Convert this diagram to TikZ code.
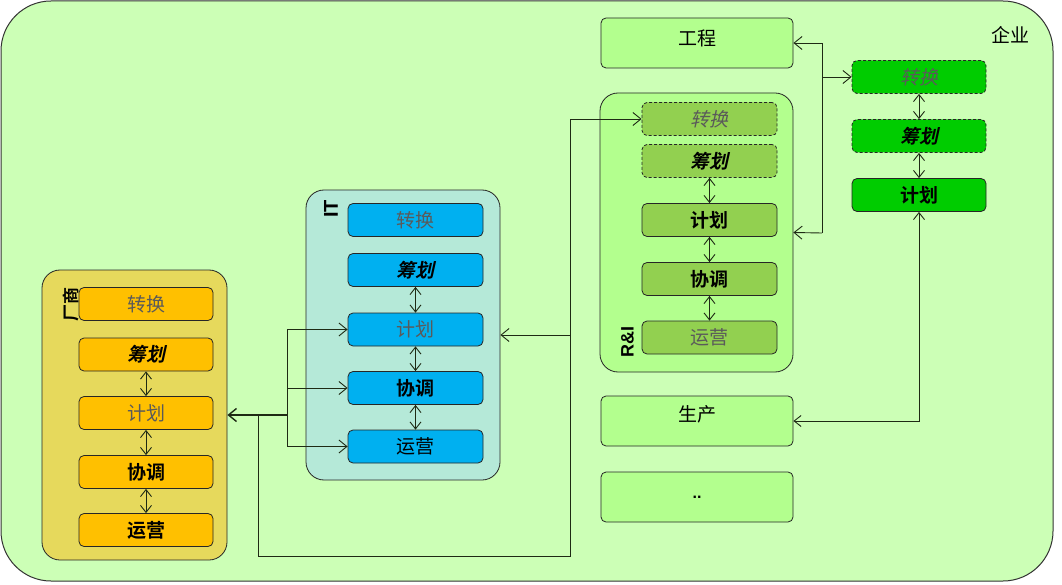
\documentclass[tikz,border=0pt]{standalone}
\usepackage{fontspec}
\setmainfont{Noto Sans CJK SC}[ItalicFont={Noto Sans CJK SC}, ItalicFeatures={FakeSlant=0.22}, BoldFont={Noto Sans CJK SC Bold}, BoldItalicFont={Noto Sans CJK SC Bold}, BoldItalicFeatures={FakeSlant=0.22}]
\newfontfamily\lat{Liberation Sans}
\usetikzlibrary{arrows.meta}
\definecolor{bgc}{HTML}{CCFFB6}
\definecolor{vendc}{HTML}{E6D95C}
\definecolor{vendbox}{HTML}{FFC000}
\definecolor{itc}{HTML}{B5E9D8}
\definecolor{itbox}{HTML}{00B0F0}
\definecolor{ric}{HTML}{B3FF8E}
\definecolor{ribox}{HTML}{92D050}
\definecolor{gbox}{HTML}{00CC00}
\definecolor{linec}{HTML}{1E2A14}
\definecolor{grayt}{HTML}{5A5A5A}
\tikzset{
  cjk/.style={font=\fontsize{19}{22}\selectfont},
  box/.style={draw=black!85, rounded corners=5pt, minimum width=134pt, minimum height=33pt, inner sep=0pt, line width=0.8pt, cjk},
  dashbox/.style={box, dash pattern=on 3pt off 2pt},
  cont/.style={draw=black!85, rounded corners=18pt, line width=0.8pt, inner sep=0pt},
  gt/.style={text=grayt},
  bt/.style={font=\fontsize{19}{22}\selectfont\bfseries},
  it/.style={font=\fontsize{19}{22}\selectfont\itshape},
  bit/.style={font=\fontsize{19}{22}\selectfont\bfseries\itshape},
  conn/.style={draw=linec, line width=0.9pt, -{Straight Barb[length=8pt,width=13pt]}},
  plain/.style={draw=linec, line width=0.9pt},
  darr/.style={draw=linec, line width=0.9pt, {Straight Barb[length=7pt,width=11pt]}-{Straight Barb[length=7pt,width=11pt]}},
  lbl/.style={font=\lat\bfseries\fontsize{19}{22}\selectfont, inner sep=0pt, rotate=90}
}
\begin{document}
\begin{tikzpicture}[x=1pt,y=-1pt]
\useasboundingbox (0,0) rectangle (1062,585);
\fill[white] (0,0) rectangle (1062,585);
\node[draw=black!80, fill=bgc, rounded corners=50pt, line width=1pt, minimum width=1052pt, minimum height=580pt, inner sep=0pt] (ent) at (527,291) {};
\node[cjk, inner sep=0pt] (entl) at (1010,35) {企业};

% containers
\node[cont, fill=vendc, minimum width=185pt, minimum height=290pt] (V) at (134.5,415) {};
\node[cont, fill=itc, minimum width=194pt, minimum height=290pt] (ITc) at (403,335) {};
\node[cont, fill=ric, minimum width=193pt, minimum height=279pt] (RI) at (696.5,232.5) {};

% container labels
\node[font=\fontsize{17}{20}\selectfont\bfseries, inner sep=0pt, rotate=90] (Vl) at (71,304) {厂商};
\node[lbl, font=\lat\bfseries\fontsize{20}{22}\selectfont] (ITl) at (331,209) {IT};
\node[lbl, font=\lat\bfseries\fontsize{18}{22}\selectfont] (RIl) at (627.5,342) {R\&I};

% vendor boxes
\node[box, fill=vendbox, gt] (v1) at (146,304) {转换};
\node[box, fill=vendbox, bit] (v2) at (146,354.5) {筹划};
\node[box, fill=vendbox, gt] (v3) at (146,413) {计划};
\node[box, fill=vendbox, bt] (v4) at (146,472) {协调};
\node[box, fill=vendbox, bt] (v5) at (146,530) {运营};

% IT boxes
\node[box, fill=itbox, gt, minimum width=135pt] (i1) at (415.5,220) {转换};
\node[box, fill=itbox, bit, minimum width=135pt] (i2) at (415.5,270) {筹划};
\node[box, fill=itbox, gt, minimum width=135pt] (i3) at (415.5,329.5) {计划};
\node[box, fill=itbox, bt, minimum width=135pt] (i4) at (415.5,388) {协调};
\node[box, fill=itbox, minimum width=135pt] (i5) at (415.5,446.5) {运营};

% R&I boxes
\node[dashbox, fill=ribox, it, gt, minimum width=135pt] (r1) at (709.5,119) {转换};
\node[dashbox, fill=ribox, bit, minimum width=135pt] (r2) at (709.5,161) {筹划};
\node[box, fill=ribox, bt, minimum width=135pt] (r3) at (709.5,220) {计划};
\node[box, fill=ribox, bt, minimum width=135pt] (r4) at (709.5,279) {协调};
\node[box, fill=ribox, gt, minimum width=135pt] (r5) at (709.5,337.5) {运营};

% enterprise green boxes
\node[dashbox, fill=gbox, it, gt] (g1) at (919,77) {转换};
\node[dashbox, fill=gbox, bit] (g2) at (919,136) {筹划};
\node[box, fill=gbox, bt] (g3) at (919,195) {计划};

% other departments
\node[box, fill=ric, minimum width=192pt, minimum height=50pt] (eng) at (697,43) {\raisebox{10pt}{工程}};
\node[box, fill=ric, minimum width=192pt, minimum height=50pt] (prod) at (697,421) {\raisebox{15pt}{生产}};
\node[box, fill=ric, minimum width=192pt, minimum height=50pt, font=\lat\bfseries\fontsize{16}{18}\selectfont] (etc) at (697,497) {..};

% stack arrows
\draw[darr] (v2.south) -- (v3.north);
\draw[darr] (v3.south) -- (v4.north);
\draw[darr] (v4.south) -- (v5.north);
\draw[darr] (i2.south) -- (i3.north);
\draw[darr] (i3.south) -- (i4.north);
\draw[darr] (i4.south) -- (i5.north);
\draw[darr] (r2.south) -- (r3.north);
\draw[darr] (r3.south) -- (r4.north);
\draw[darr] (r4.south) -- (r5.north);
\draw[darr] (g1.south) -- (g2.north);
\draw[darr] (g2.south) -- (g3.north);

% left connectors
\coordinate (j1) at (287,415);
\coordinate (k0) at (258,415);
\coordinate (k1) at (258,556);
\coordinate (k2) at (570,556);
\coordinate (k3) at (570,335);
\draw[conn, line width=1.4pt] (j1) -- (V.east);
\draw[plain] (j1 |- i3.west) -- (j1 |- i5.west);
\draw[conn] (j1 |- i3.west) -- (i3.west);
\draw[conn] (j1 |- i4.west) -- (i4.west);
\draw[conn] (j1 |- i5.west) -- (i5.west);
\draw[conn] (k0) -- (k1) -- (k2) |- (r1.west);
\draw[conn] (k3) -- (ITc.east);

% right connectors
\coordinate (j3) at (822,233);
\draw[conn] (j3) -- (RI.east);
\draw[conn] (j3) |- (eng.east);
\draw[conn] (j3 |- g1.west) -- (g1.west);
\draw[darr] (prod.east) -| (g3.south);
\end{tikzpicture}
\end{document}
